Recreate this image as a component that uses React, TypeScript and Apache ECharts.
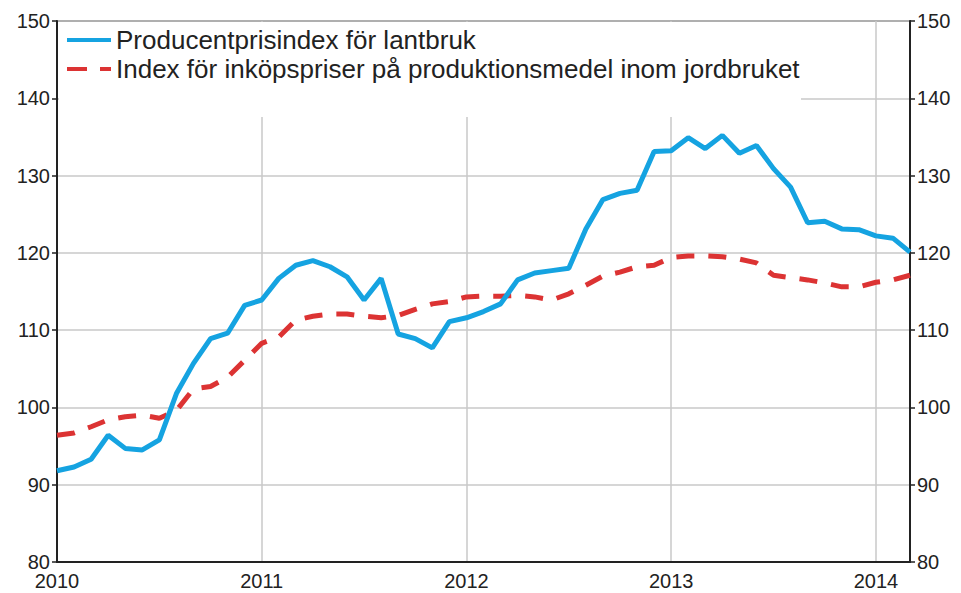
import React, { useEffect, useRef } from "react";
import * as echarts from "echarts";

const months: string[] = [
  "2010-01","2010-02","2010-03","2010-04","2010-05","2010-06","2010-07","2010-08","2010-09","2010-10","2010-11","2010-12",
  "2011-01","2011-02","2011-03","2011-04","2011-05","2011-06","2011-07","2011-08","2011-09","2011-10","2011-11","2011-12",
  "2012-01","2012-02","2012-03","2012-04","2012-05","2012-06","2012-07","2012-08","2012-09","2012-10","2012-11","2012-12",
  "2013-01","2013-02","2013-03","2013-04","2013-05","2013-06","2013-07","2013-08","2013-09","2013-10","2013-11","2013-12",
  "2014-01","2014-02","2014-03",
];

const producerIndex: number[] = [
  91.8, 92.3, 93.3, 96.4, 94.7, 94.5, 95.8, 101.8, 105.7, 108.9, 109.6, 113.2,
  113.9, 116.7, 118.4, 119.0, 118.2, 116.9, 113.9, 116.7, 109.5, 108.9, 107.7, 111.1,
  111.6, 112.4, 113.4, 116.5, 117.4, 117.7, 118.0, 123.1, 126.9, 127.7, 128.1, 133.1,
  133.2, 134.9, 133.5, 135.2, 132.9, 133.9, 130.9, 128.5, 123.9, 124.1, 123.1, 123.0,
  122.2, 121.9, 120.1,
];

const inputIndex: number[] = [
  96.4, 96.7, 97.5, 98.4, 98.8, 99.0, 98.6, 99.6, 102.4, 102.7, 103.9, 106.1,
  108.3, 109.1, 111.3, 111.8, 112.1, 112.1, 111.8, 111.6, 111.9, 112.7, 113.4, 113.7,
  114.3, 114.4, 114.4, 114.5, 114.3, 113.9, 114.7, 115.8, 117.0, 117.5, 118.2, 118.4,
  119.4, 119.6, 119.6, 119.5, 119.2, 118.7, 117.1, 116.8, 116.5, 116.1, 115.6, 115.6,
  116.2, 116.5, 117.1,
];

const seriesNames: string[] = [
  "Producentprisindex för lantbruk",
  "Index för inköpspriser på produktionsmedel inom jordbruket",
];

const yMin = 80;
const yMax = 150;
const yStep = 10;

const BLUE = "#15a3e1";
const RED = "#dc3333";

export default function App() {
  const ref = useRef<HTMLDivElement>(null);
  useEffect(() => {
    document.body.style.margin = "0";
    if (!ref.current) return;
    const chart = echarts.init(ref.current, undefined, { renderer: "svg" });
    const font = "Liberation Sans";
    const yearTick = (i: number) => i % 12 === 0;
    const axisLabelStyle = { fontFamily: font, fontSize: 20, color: "#222" };
    chart.setOption({
      animation: false,
      backgroundColor: "#ffffff",
      textStyle: { fontFamily: font },
      grid: {
        left: 57, right: 51, top: 21, bottom: 31,
        show: true, borderColor: "#333", borderWidth: 1.5, containLabel: false,
      },
      legend: {
        orient: "vertical",
        left: 67, top: 27, padding: 0,
        itemWidth: 44, itemHeight: 4, itemGap: 3,
        itemStyle: { borderWidth: 0 },
        textStyle: { fontFamily: font, fontSize: 26, color: "#222", lineHeight: 26 },
        data: [
          { name: seriesNames[0], icon: "path://M0,0H44V4H0Z" },
          { name: seriesNames[1], icon: "path://M0,0H20V4H0Z M33,0H44V4H33Z" },
        ],
      },
      graphic: [
        {
          type: "rect", z: 3,
          shape: { x: 59, y: 22, width: 742, height: 95 },
          style: { fill: "#ffffff" },
          silent: true,
        },
      ],
      xAxis: {
        type: "category",
        data: months,
        boundaryGap: false,
        axisLine: { lineStyle: { color: "#222", width: 2 } },
        axisTick: { show: false },
        axisLabel: {
          interval: (i: number) => yearTick(i),
          formatter: (v: string) => v.slice(0, 4),
          ...axisLabelStyle, margin: 9,
        },
        splitLine: {
          show: true,
          interval: (i: number) => yearTick(i),
          lineStyle: { color: "#c8c8c8", width: 1.5 },
        },
      },
      yAxis: [
        {
          type: "value", min: yMin, max: yMax, interval: yStep, position: "left",
          axisLine: { show: true, lineStyle: { color: "#222", width: 2 } },
          axisTick: { show: true, length: 5, lineStyle: { color: "#222", width: 1.5 } },
          axisLabel: { ...axisLabelStyle, margin: 7 },
          splitLine: { show: true, lineStyle: { color: "#c8c8c8", width: 1.5 } },
        },
        {
          type: "value", min: yMin, max: yMax, interval: yStep, position: "right",
          axisLine: { show: true, lineStyle: { color: "#222", width: 2 } },
          axisTick: { show: true, length: 5, lineStyle: { color: "#222", width: 1.5 } },
          axisLabel: { ...axisLabelStyle, margin: 7 },
          splitLine: { show: false },
        },
      ],
      series: [
        {
          name: seriesNames[0], type: "line", data: producerIndex,
          symbol: "none", z: 3,
          lineStyle: { color: BLUE, width: 5 },
          itemStyle: { color: BLUE },
        },
        {
          name: seriesNames[1], type: "line", data: inputIndex,
          symbol: "none", z: 2,
          lineStyle: { color: RED, width: 5, type: [18, 14] },
          itemStyle: { color: RED },
        },
      ],
    });
    return () => chart.dispose();
  }, []);
  return <div ref={ref} style={{ width: 961, height: 593 }} />;
}
